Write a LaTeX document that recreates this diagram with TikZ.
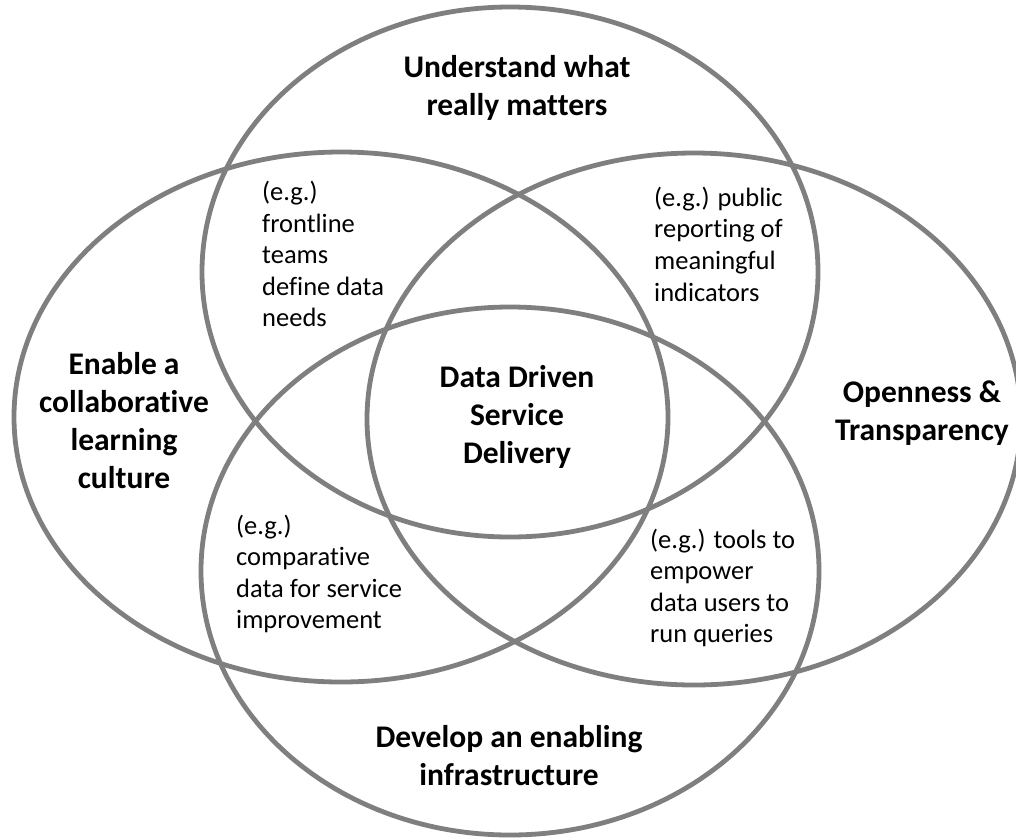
\documentclass[tikz,border=0pt]{standalone}
\usepackage{fontspec}
\setmainfont{Carlito}[Ligatures=NoCommon]
\definecolor{ringgray}{RGB}{127,127,127}
\begin{document}
\begin{tikzpicture}[x=1pt,y=-1pt,
  ring/.style={draw=ringgray,line width=4.8pt},
  bigtext/.style={font=\fontsize{31.5}{38}\selectfont\bfseries,align=center,inner sep=0pt},
  smalltext/.style={font=\fontsize{26.5}{31.6}\selectfont,align=left,anchor=west,inner sep=0pt}]
\useasboundingbox (0,0) rectangle (1016,839);
\clip (0,0) rectangle (1016,839);
% the four sets
\draw[ring] (510,272) ellipse [x radius=308, y radius=265];
\draw[ring] (341,417) ellipse [x radius=327, y radius=265];
\draw[ring] (694,419) ellipse [x radius=327, y radius=266];
\draw[ring] (510,571) ellipse [x radius=309, y radius=264];
% set labels
\node[bigtext] (understand) at (517,88) {Understand what\\really matters};
\node[bigtext] (culture) at (124,421) {Enable a\\collaborative\\learning\\culture};
\node[bigtext] (openness) at (922,413) {Openness \&\\Transparency};
\node[bigtext] (infra) at (509,756) {Develop an enabling\\infrastructure};
\node[bigtext] (core) at (517,417) {Data Driven\\Service\\Delivery};
% examples in the overlaps
\node[smalltext] (frontline) at (262,254) {(e.g.)\\frontline\\teams\\define data\\needs};
\node[smalltext] (public) at (654,244) {(e.g.) public\\reporting of\\meaningful\\indicators};
\node[smalltext] (compare) at (236,574) {(e.g.)\\comparative\\data for service\\improvement};
\node[smalltext] (tools) at (650,588) {(e.g.) tools to\\empower\\data users to\\run queries};
\end{tikzpicture}
\end{document}
